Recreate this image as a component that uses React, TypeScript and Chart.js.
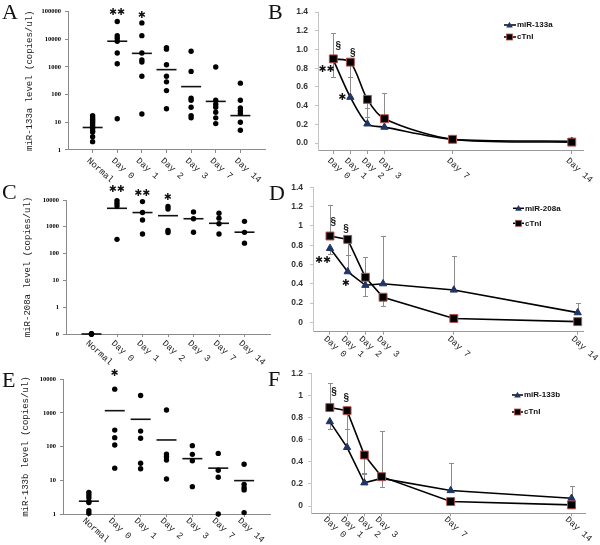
import React, { useEffect, useRef } from "react";
import { Chart, registerables } from "chart.js";

Chart.register(...registerables);

const W = 600;
const H = 545;

// ---------------- Left panels: dot plots (log scale) ----------------
const categories = ["Normal", "Day 0", "Day 1", "Day 2", "Day 3", "Day 7", "Day 14"];

const miR133aDots = [
  [17.5, 15, 13, 11.5, 10, 8.5, 7.2, 6, 5, 4.5, 3, 2],
  [44000, 13500, 11000, 8500, 3200, 1300, 13.5],
  [39000, 13500, 3200, 1800, 1500, 460, 20],
  [5000, 4400, 1200, 460, 290, 140, 31],
  [3700, 690, 74, 63, 35, 17.5, 14.5],
  [1000, 63, 45, 35, 23, 14.5, 9],
  [260, 63, 33, 26, 21, 10, 5.2],
];
const miR133aMedians = [6.5, 8500, 3100, 800, 195, 57, 17.5];

const miR208aDots = [
  [0, 0, 0, 0, 0],
  [9500, 7600, 6000, 340],
  [8700, 3400, 1800, 540],
  [5700, 4600, 730, 610],
  [3600, 2000, 630],
  [3200, 2100, 1300, 540],
  [1600, 620, 245],
];
const miR208aMedians = [0, 4900, 3400, 2600, 2000, 1350, 630];

const miR133bDots = [
  [4.4, 3.7, 3.1, 2.4, 2.2, 1.25, 1.05],
  [5100, 310, 185, 112, 23],
  [3300, 290, 177, 32, 22],
  [1230, 60, 50, 40, 11],
  [107, 59, 38, 6.5],
  [63, 20, 12.3, 1],
  [30, 7.6, 6, 5.2, 1.1],
];
const miR133bMedians = [2.4, 1170, 650, 158, 44, 23, 9.8];

const logTicksA = [1, 10, 100, 1000, 10000, 100000];
const logLabelsA = ["1", "10", "100", "1000", "10000", "100000"];
const logTicksC = [0.1, 1, 10, 100, 1000, 10000];
const logLabelsC = ["0", "1", "10", "100", "1000", "10000"];
const logTicksE = [1, 10, 100, 1000, 10000];
const logLabelsE = ["1", "10", "100", "1000", "10000"];

// significance marks: category index, value position, text
const starsA = [
  { cat: 1, value: 92000, text: "✱✱" },
  { cat: 2, value: 70000, text: "✱" },
];
const starsC = [
  { cat: 1, value: 23600, text: "✱✱" },
  { cat: 2, value: 16800, text: "✱✱" },
  { cat: 3, value: 12600, text: "✱" },
];
const starsE = [{ cat: 1, value: 15000, text: "✱" }];

// ---------------- Right panels: relative levels over time ----------------
const days = [0, 1, 2, 3, 7, 14];
const dayLabels = ["Day 0", "Day 1", "Day 2", "Day 3", "Day 7", "Day 14"];

const miR133aRel = [0.89, 0.49, 0.205, 0.17, 0.04, 0.02];
const cTnIRelB = [0.9, 0.865, 0.467, 0.26, 0.04, 0.01];
const miR133aErrUp = [null, 0.71, 0.38, null, null, 0.05];
const miR133aErrLow = [null, null, null, null, null, null];
const cTnIErrUpB = [1.18, null, null, 0.54, null, null];
const cTnIErrLowB = [0.71, 0.71, 0.28, null, null, null];

const miR208aRel = [0.767, 0.525, 0.384, 0.4, 0.335, 0.1];
const cTnIRelD = [0.895, 0.86, 0.467, 0.26, 0.04, 0.007];
const miR208aErrUp = [null, 0.7, null, 0.9, 0.69, 0.197];
const miR208aErrLow = [0.71, null, 0.273, null, null, null];
const cTnIErrUpD = [1.22, null, 0.674, null, null, null];
const cTnIErrLowD = [null, 0.7, null, 0.17, null, null];

const miR133bRel = [0.763, 0.53, 0.21, 0.25, 0.14, 0.07];
const cTnIRelF = [0.89, 0.862, 0.461, 0.265, 0.04, 0.01];
const miR133bErrUp = [null, 0.7, 0.3, null, 0.39, 0.18];
const miR133bErrLow = [0.7, null, null, null, null, null];
const cTnIErrUpF = [1.115, null, null, 0.68, null, null];
const cTnIErrLowF = [null, 0.7, 0.29, 0.175, null, null];

const yTicksB = [0, 0.2, 0.4, 0.6, 0.8, 1.0, 1.2, 1.4];
const yLabelsB = ["0.0", "0.2", "0.4", "0.6", "0.8", "1.0", "1.2", "1.4"];
const yTicksD = [0, 0.2, 0.4, 0.6, 0.8, 1.0, 1.2, 1.4];
const yLabelsD = ["0", "0.2", "0.4", "0.6", "0.8", "1", "1.2", "1.4"];
const yTicksF = [0, 0.2, 0.4, 0.6, 0.8, 1.0, 1.2];
const yLabelsF = ["0", "0.2", "0.4", "0.6", "0.8", "1", "1.2"];

const marksB = [
  { x: 0.29, y: 1.04, text: "§" },
  { x: 1.14, y: 0.96, text: "§" },
  { x: -0.39, y: 0.79, text: "✱✱" },
  { x: 0.54, y: 0.49, text: "✱" },
];
const marksD = [
  { x: 0.19, y: 1.04, text: "§" },
  { x: 0.9, y: 0.97, text: "§" },
  { x: -0.38, y: 0.636, text: "✱✱" },
  { x: 0.9, y: 0.4, text: "✱" },
];
const marksF = [
  { x: 0.25, y: 1.03, text: "§" },
  { x: 0.96, y: 0.97, text: "§" },
];

// ---------------- styles ----------------
const NAVY = "#1F3566";
const RED_EDGE = "#B5504A";
const MONO = '"Liberation Mono", "DejaVu Sans Mono", monospace';
const SANS = '"Liberation Sans", Arial, sans-serif';
const SERIF = '"Liberation Serif", "Times New Roman", serif';
const ANG = (42 * Math.PI) / 180;

type Area = { left: number; top: number; right: number; bottom: number };

function drawRotLabels(
  chart: any,
  values: number[],
  labels: string[],
  dx: number,
  dy: number
) {
  const ctx = chart.ctx as CanvasRenderingContext2D;
  const xs = chart.scales.x;
  const y0 = chart.chartArea.bottom;
  ctx.save();
  ctx.font = `9px ${MONO}`;
  ctx.fillStyle = "#222";
  ctx.textAlign = "left";
  ctx.textBaseline = "middle";
  values.forEach((v, i) => {
    const px = xs.getPixelForValue(v);
    ctx.save();
    ctx.translate(px + dx, y0 + dy);
    ctx.rotate(ANG);
    ctx.fillText(labels[i], 0, 0);
    ctx.restore();
  });
  ctx.restore();
}

function drawMark(ctx: CanvasRenderingContext2D, text: string, x: number, y: number) {
  ctx.save();
  ctx.fillStyle = "#111";
  ctx.textAlign = "center";
  ctx.textBaseline = "middle";
  if (text === "§") ctx.font = `bold 10px ${SANS}`;
  else ctx.font = `bold 9.5px "DejaVu Sans", sans-serif`;
  ctx.fillText(text, x, y);
  ctx.restore();
}

interface LeftCfg {
  dots: number[][];
  medians: number[];
  ticks: number[];
  labels: string[];
  floor: number;
  max: number;
  title: string;
  titleX: number;
  area: Area;
  stars: { cat: number; value: number; text: string }[];
  labelDx: number;
  labelDy: number;
}

function makeLeft(canvas: HTMLCanvasElement, c: LeftCfg) {
  const XH = 20;
  const pts: { x: number; y: number }[] = [];
  c.dots.forEach((vals, i) => vals.forEach((v) => pts.push({ x: i + 1, y: Math.max(v, c.floor) })));
  const med = c.medians.map((m, i) => ({ x: i + 1, y: Math.max(m, c.floor) }));
  const plugin = {
    id: "leftDraw",
    afterDraw(chart: any) {
      drawRotLabels(chart, categories.map((_, i) => i + 1), categories, c.labelDx, c.labelDy);
      const ctx = chart.ctx;
      c.stars.forEach((s) => {
        drawMark(ctx, s.text, chart.scales.x.getPixelForValue(s.cat + 1), chart.scales.y.getPixelForValue(s.value));
      });
    },
  };
  return new Chart(canvas, {
    type: "scatter",
    data: {
      datasets: [
        {
          data: pts,
          pointRadius: 2.7,
          pointBackgroundColor: "#000",
          pointBorderWidth: 0,
          showLine: false,
          clip: false,
        } as any,
        {
          data: med,
          pointStyle: "line",
          pointRadius: 10,
          pointBorderColor: "#111",
          pointBorderWidth: 1.6,
          showLine: false,
          clip: false,
        } as any,
      ],
    },
    options: {
      animation: false,
      responsive: false,
      events: [],
      layout: {
        padding: { left: 0, top: c.area.top, right: W - c.area.right, bottom: H - c.area.bottom - XH },
      },
      plugins: { legend: { display: false }, tooltip: { enabled: false } },
      scales: {
        x: {
          type: "linear",
          min: 0,
          max: 8,
          afterBuildTicks: (a: any) => {
            a.ticks = categories.map((_, i) => ({ value: i + 1 }));
          },
          afterFit: (a: any) => {
            a.height = XH;
          },
          ticks: { display: false, autoSkip: false },
          grid: { drawOnChartArea: false, drawTicks: true, tickLength: 3, color: "#8a8a8a" },
          border: { color: "#8a8a8a", width: 1 },
        },
        y: {
          type: "logarithmic",
          min: c.floor,
          max: c.max,
          afterBuildTicks: (a: any) => {
            a.ticks = c.ticks.map((v) => ({ value: v }));
          },
          afterFit: (a: any) => {
            a.width = c.area.left;
          },
          ticks: {
            autoSkip: false,
            padding: 4,
            color: "#000",
            font: { family: SERIF, size: 6.5, weight: "bold" },
            callback: (_v: any, i: number) => c.labels[i],
          },
          grid: { drawOnChartArea: false, drawTicks: true, tickLength: 3, color: "#8a8a8a" },
          border: { color: "#8a8a8a", width: 1 },
          title: {
            display: true,
            text: c.title,
            color: "#222",
            font: { family: MONO, size: 9, weight: "normal" },
            padding: { top: c.titleX - 5.4, bottom: 0 },
          },
        },
      },
    } as any,
    plugins: [plugin],
  });
}

interface RightCfg {
  area: Area;
  xMin: number;
  xMax: number;
  yMin: number;
  yMax: number;
  yTicks: number[];
  yLabels: string[];
  tickPad: number;
  miR: number[];
  cTnI: number[];
  miRUp: (number | null)[];
  miRLow: (number | null)[];
  cUp: (number | null)[];
  cLow: (number | null)[];
  tension: number;
  miRName: string;
  legend: { x: number; y1: number; y2: number; textX: number };
  marks: { x: number; y: number; text: string }[];
  labelDx: number;
  labelDy: number;
}

function makeRight(canvas: HTMLCanvasElement, c: RightCfg) {
  const XH = 20;
  const YW = 40;
  const plugin = {
    id: "rightDraw",
    beforeDatasetsDraw(chart: any) {
      const ctx = chart.ctx as CanvasRenderingContext2D;
      const xs = chart.scales.x;
      const ys = chart.scales.y;
      ctx.save();
      ctx.strokeStyle = "#8c8c8c";
      ctx.lineWidth = 1;
      const bar = (d: number, from: number, to: number | null) => {
        if (to === null || to === undefined) return;
        const px = Math.round(xs.getPixelForValue(d)) + 0.5;
        const p1 = ys.getPixelForValue(from);
        const p2 = Math.round(ys.getPixelForValue(to)) + 0.5;
        ctx.beginPath();
        ctx.moveTo(px, p1);
        ctx.lineTo(px, p2);
        ctx.moveTo(px - 2.5, p2);
        ctx.lineTo(px + 2.5, p2);
        ctx.stroke();
      };
      days.forEach((d, i) => {
        bar(d, c.miR[i], c.miRUp[i]);
        bar(d, c.miR[i], c.miRLow[i]);
        bar(d, c.cTnI[i], c.cUp[i]);
        bar(d, c.cTnI[i], c.cLow[i]);
      });
      ctx.restore();
    },
    afterDraw(chart: any) {
      const ctx = chart.ctx as CanvasRenderingContext2D;
      drawRotLabels(chart, days, dayLabels, c.labelDx, c.labelDy);
      c.marks.forEach((m) => {
        drawMark(ctx, m.text, chart.scales.x.getPixelForValue(m.x), chart.scales.y.getPixelForValue(m.y));
      });
      // legend
      const { x, y1, y2, textX } = c.legend;
      ctx.save();
      ctx.strokeStyle = "#000";
      ctx.lineWidth = 1.5;
      [y1, y2].forEach((y) => {
        ctx.beginPath();
        ctx.moveTo(x, y);
        ctx.lineTo(textX - 1, y);
        ctx.stroke();
      });
      const cx = x + 5.5;
      ctx.fillStyle = NAVY;
      ctx.beginPath();
      ctx.moveTo(cx, y1 - 3.2);
      ctx.lineTo(cx + 3.3, y1 + 2.4);
      ctx.lineTo(cx - 3.3, y1 + 2.4);
      ctx.closePath();
      ctx.fill();
      ctx.fillStyle = "#000";
      ctx.fillRect(cx - 3, y2 - 3, 6, 6);
      ctx.strokeStyle = RED_EDGE;
      ctx.lineWidth = 0.8;
      ctx.strokeRect(cx - 3, y2 - 3, 6, 6);
      ctx.font = `bold 8px ${SANS}`;
      ctx.fillStyle = "#111";
      ctx.textAlign = "left";
      ctx.textBaseline = "middle";
      ctx.fillText(c.miRName, textX, y1);
      ctx.fillText("cTnI", textX, y2);
      ctx.restore();
    },
  };
  return new Chart(canvas, {
    type: "scatter",
    data: {
      datasets: [
        {
          label: "cTnI",
          data: days.map((d, i) => ({ x: d, y: c.cTnI[i] })),
          showLine: true,
          borderColor: "#000",
          borderWidth: 1.6,
          tension: c.tension,
          pointStyle: "rect",
          pointRadius: 5.6,
          pointBackgroundColor: "#000",
          pointBorderColor: RED_EDGE,
          pointBorderWidth: 1,
          clip: false,
          order: 0,
        } as any,
        {
          label: c.miRName,
          data: days.map((d, i) => ({ x: d, y: c.miR[i] })),
          showLine: true,
          borderColor: "#000",
          borderWidth: 1.6,
          tension: c.tension,
          pointStyle: "triangle",
          pointRadius: 4.2,
          pointBackgroundColor: NAVY,
          pointBorderColor: NAVY,
          pointBorderWidth: 1,
          clip: false,
          order: 1,
        } as any,
      ],
    },
    options: {
      animation: false,
      responsive: false,
      events: [],
      layout: {
        padding: {
          left: c.area.left - YW,
          top: c.area.top,
          right: W - c.area.right,
          bottom: H - c.area.bottom - XH,
        },
      },
      plugins: { legend: { display: false }, tooltip: { enabled: false } },
      scales: {
        x: {
          type: "linear",
          min: c.xMin,
          max: c.xMax,
          afterBuildTicks: (a: any) => {
            a.ticks = days.map((d) => ({ value: d }));
          },
          afterFit: (a: any) => {
            a.height = XH;
          },
          ticks: { display: false, autoSkip: false },
          grid: { drawOnChartArea: false, drawTicks: true, tickLength: 3, color: "#9a9a9a" },
          border: { color: "#9a9a9a", width: 1 },
        },
        y: {
          type: "linear",
          min: c.yMin,
          max: c.yMax,
          afterBuildTicks: (a: any) => {
            a.ticks = c.yTicks.map((v) => ({ value: v }));
          },
          afterFit: (a: any) => {
            a.width = YW;
          },
          ticks: {
            autoSkip: false,
            padding: c.tickPad,
            color: "#333",
            font: { family: SANS, size: 8.5, weight: "bold" },
            callback: (_v: any, i: number) => c.yLabels[i],
          },
          grid: { drawOnChartArea: false, drawTicks: true, tickLength: 3, color: "#c4c4c4" },
          border: { color: "#c4c4c4", width: 1 },
        },
      },
    } as any,
    plugins: [plugin],
  });
}

const panelA: LeftCfg = {
  dots: miR133aDots,
  medians: miR133aMedians,
  ticks: logTicksA,
  labels: logLabelsA,
  floor: 1,
  max: 100000,
  title: "miR-133a level (copies/ul)",
  titleX: 30,
  area: { left: 68, top: 9, right: 265, bottom: 150 },
  stars: starsA,
  labelDx: -4.5,
  labelDy: 9.5,
};
const panelC: LeftCfg = {
  dots: miR208aDots,
  medians: miR208aMedians,
  ticks: logTicksC,
  labels: logLabelsC,
  floor: 0.1,
  max: 10000,
  title: "miR-208a level (copies/ul)",
  titleX: 27.5,
  area: { left: 66, top: 200, right: 270, bottom: 334 },
  stars: starsC,
  labelDx: -4.5,
  labelDy: 8,
};
const panelE: LeftCfg = {
  dots: miR133bDots,
  medians: miR133bMedians,
  ticks: logTicksE,
  labels: logLabelsE,
  floor: 1,
  max: 10000,
  title: "miR-133b level (copies/ul)",
  titleX: 26,
  area: { left: 63, top: 379.3, right: 270, bottom: 514 },
  stars: starsE,
  labelDx: -5,
  labelDy: 5.5,
};

const panelB: RightCfg = {
  area: { left: 318, top: 6.7, right: 583, bottom: 151 },
  xMin: -0.9,
  xMax: 14.66,
  yMin: -0.085,
  yMax: 1.4,
  yTicks: yTicksB,
  yLabels: yLabelsB,
  tickPad: 7,
  miR: miR133aRel,
  cTnI: cTnIRelB,
  miRUp: miR133aErrUp,
  miRLow: miR133aErrLow,
  cUp: cTnIErrUpB,
  cLow: cTnIErrLowB,
  tension: 0.3,
  miRName: "miR-133a",
  legend: { x: 504, y1: 25, y2: 37, textX: 517 },
  marks: marksB,
  labelDx: -4.5,
  labelDy: 8.5,
};
const panelD: RightCfg = {
  area: { left: 313, top: 187.3, right: 583, bottom: 331.7 },
  xMin: -0.96,
  xMax: 14.3,
  yMin: -0.0975,
  yMax: 1.4,
  yTicks: yTicksD,
  yLabels: yLabelsD,
  tickPad: 7,
  miR: miR208aRel,
  cTnI: cTnIRelD,
  miRUp: miR208aErrUp,
  miRLow: miR208aErrLow,
  cUp: cTnIErrUpD,
  cLow: cTnIErrLowD,
  tension: 0,
  miRName: "miR-208a",
  legend: { x: 513, y1: 208.3, y2: 223.3, textX: 525 },
  marks: marksD,
  labelDx: -5,
  labelDy: 6,
};
const panelF: RightCfg = {
  area: { left: 311, top: 373.3, right: 585, bottom: 513.3 },
  xMin: -1.09,
  xMax: 14.78,
  yMin: -0.066,
  yMax: 1.2,
  yTicks: yTicksF,
  yLabels: yLabelsF,
  tickPad: 5,
  miR: miR133bRel,
  cTnI: cTnIRelF,
  miRUp: miR133bErrUp,
  miRLow: miR133bErrLow,
  cUp: cTnIErrUpF,
  cLow: cTnIErrLowF,
  tension: 0,
  miRName: "miR-133b",
  legend: { x: 512, y1: 395, y2: 412, textX: 524 },
  marks: marksF,
  labelDx: -5,
  labelDy: 5,
};

const panelLetters = [
  { t: "A", x: 2, y: 1 },
  { t: "B", x: 268, y: 1 },
  { t: "C", x: 2, y: 181 },
  { t: "D", x: 269, y: 182 },
  { t: "E", x: 2, y: 369 },
  { t: "F", x: 268, y: 368 },
];

export default function App() {
  const refs = useRef<(HTMLCanvasElement | null)[]>([]);
  useEffect(() => {
    const r = refs.current;
    const charts = [
      makeLeft(r[0]!, panelA),
      makeRight(r[1]!, panelB),
      makeLeft(r[2]!, panelC),
      makeRight(r[3]!, panelD),
      makeLeft(r[4]!, panelE),
      makeRight(r[5]!, panelF),
    ];
    return () => charts.forEach((ch) => ch.destroy());
  }, []);
  return (
    <div
      style={{
        position: "absolute",
        left: 0,
        top: 0,
        width: W,
        height: H,
        background: "#fff",
        overflow: "hidden",
      }}
    >
      {[0, 1, 2, 3, 4, 5].map((i) => (
        <canvas
          key={i}
          ref={(el) => {
            refs.current[i] = el;
          }}
          width={W}
          height={H}
          style={{ position: "absolute", left: 0, top: 0, width: W, height: H }}
        />
      ))}
      {panelLetters.map((l) => (
        <div
          key={l.t}
          style={{
            position: "absolute",
            left: l.x,
            top: l.y,
            fontFamily: SERIF,
            fontSize: 22,
            lineHeight: 1,
            color: "#111",
          }}
        >
          {l.t}
        </div>
      ))}
    </div>
  );
}
